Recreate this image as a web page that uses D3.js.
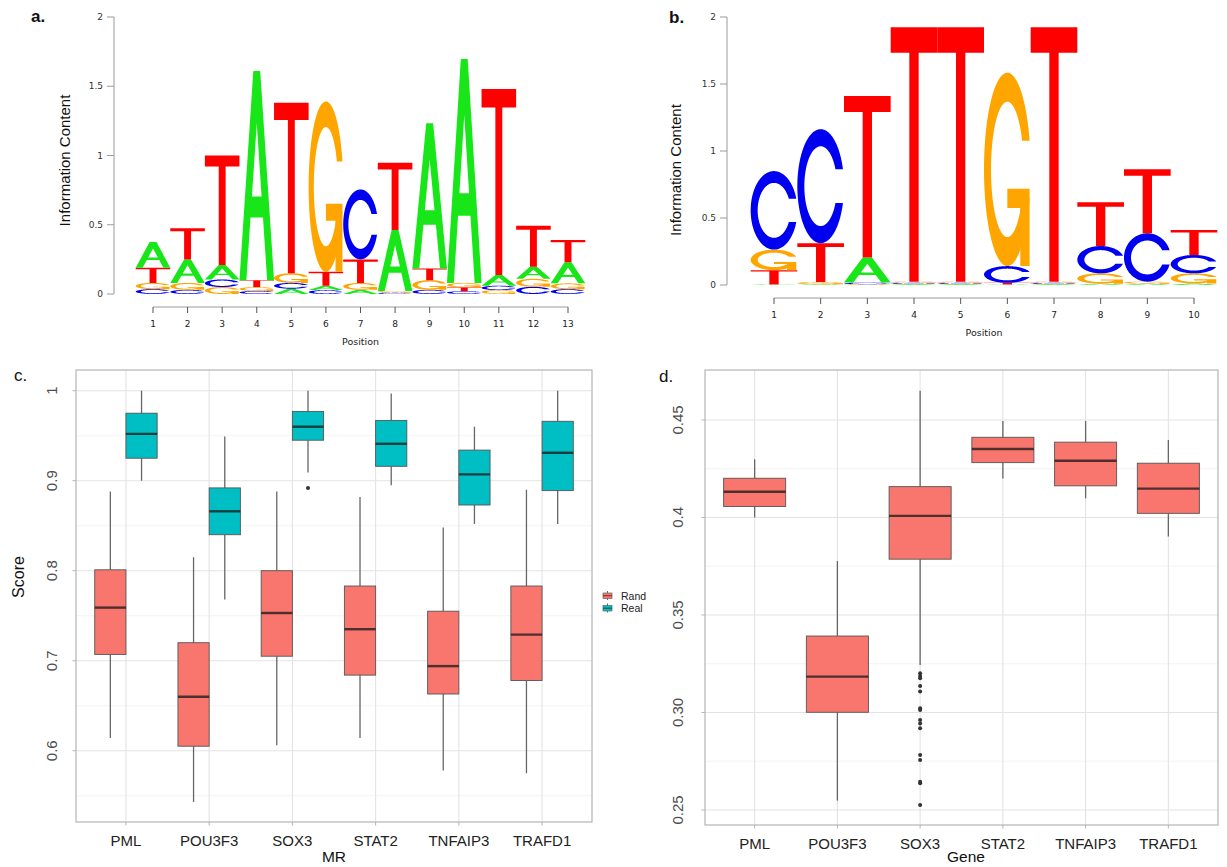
<!DOCTYPE html>
<html>
<head>
<meta charset="utf-8">
<script src="https://cdnjs.cloudflare.com/ajax/libs/d3/7.8.5/d3.min.js"></script>
<style>
  body { margin: 0; background: #fff; }
  svg { display: block; font-family: "Liberation Sans", Arial, sans-serif; }
</style>
</head>
<body>
<svg id="fig" width="1227" height="867"></svg>
<script>
// ---------- data ----------
// logo a: information per base and position (bits)
var logoAPos = [1, 2, 3, 4, 5, 6, 7, 8, 9, 10, 11, 12, 13];
var logoA_A = [0.185, 0.17, 0.105, 1.51, 0.038, 0.032, 0.03, 0.44, 1.047, 1.617, 0.077, 0.087, 0.153];
var logoA_C = [0.035, 0.03, 0.055, 0.022, 0.042, 0.028, 0.505, 0.01, 0.03, 0.02, 0.032, 0.052, 0.035];
var logoA_G = [0.045, 0.05, 0.05, 0.028, 0.07, 1.23, 0.05, 0.012, 0.07, 0.032, 0.028, 0.058, 0.042];
var logoA_T = [0.11, 0.225, 0.79, 0.05, 1.23, 0.1, 0.17, 0.485, 0.085, 0.028, 1.343, 0.296, 0.16];

// logo b
var logoBPos = [1, 2, 3, 4, 5, 6, 7, 8, 9, 10];
var logoB_A = [0.004, 0.006, 0.188, 0.008, 0.008, 0.004, 0.008, 0.01, 0.01, 0.012];
var logoB_C = [0.586, 0.851, 0.012, 0.008, 0.008, 0.125, 0.008, 0.204, 0.361, 0.137];
var logoB_G = [0.153, 0.016, 0.006, 0.009, 0.009, 1.443, 0.009, 0.077, 0.015, 0.075];
var logoB_T = [0.107, 0.29, 1.205, 1.898, 1.898, 0.012, 1.898, 0.326, 0.477, 0.186];

var logoTicks = [0, 0.5, 1, 1.5, 2];

// box plots: [lower whisker, q1, median, q3, upper whisker]
var genes = ["PML", "POU3F3", "SOX3", "STAT2", "TNFAIP3", "TRAFD1"];
var scoreRand = [
    [0.614, 0.707, 0.759, 0.801, 0.888],
    [0.543, 0.605, 0.660, 0.720, 0.815],
    [0.606, 0.705, 0.753, 0.800, 0.888],
    [0.614, 0.684, 0.735, 0.783, 0.882],
    [0.578, 0.663, 0.694, 0.755, 0.848],
    [0.575, 0.678, 0.729, 0.783, 0.890]
];
var scoreReal = [
    [0.900, 0.925, 0.952, 0.975, 1.000],
    [0.768, 0.840, 0.866, 0.892, 0.949],
    [0.909, 0.945, 0.960, 0.977, 1.000],
    [0.895, 0.916, 0.941, 0.967, 0.997],
    [0.852, 0.873, 0.907, 0.934, 0.960],
    [0.852, 0.889, 0.931, 0.966, 1.000]
];
var scoreRealOutliers = [["SOX3", 0.892]];
var scoreTicks = [0.6, 0.7, 0.8, 0.9, 1];
var scoreTickLabels = ["0.6", "0.7", "0.8", "0.9", "1"];
var scoreMinor = [0.55, 0.65, 0.75, 0.85, 0.95];

var geneRand = [
    [0.4000, 0.4056, 0.4132, 0.4201, 0.4298],
    [0.2548, 0.3001, 0.3184, 0.3392, 0.3777],
    [0.3244, 0.3786, 0.4008, 0.4158, 0.4650],
    [0.4200, 0.4281, 0.4351, 0.4411, 0.4495],
    [0.4098, 0.4162, 0.4291, 0.4386, 0.4495],
    [0.3902, 0.4021, 0.4148, 0.4278, 0.4397]
];
var sox3Outliers = [0.3201, 0.3187, 0.3175, 0.3136, 0.3107, 0.3021, 0.3013, 0.2962,
    0.2944, 0.2919, 0.2782, 0.2756, 0.2645, 0.2637, 0.2526];
var geneTicks = [0.25, 0.30, 0.35, 0.4, 0.45];
var geneTickLabels = ["0.25", "0.30", "0.35", "0.4", "0.45"];
var geneMinor = [0.275, 0.325, 0.375, 0.425];

var groups = ["Rand", "Real"];
var groupColor = {Rand: "#f8766d", Real: "#00bfc4"};

var svg = d3.select("#fig");

// ---------- letter shapes (unit box, y up) ----------
var bases = ["A", "C", "G", "T"];
var baseColor = {A: "#19e619", C: "#0000f0", G: "#ffa500", T: "#ff0000"};

function ringC() {
    var n = 60;
    var a1 = d3.range(n).map(function (k) { return Math.PI / 2 + 0.3 + (Math.PI / 2 - 0.3) * k / (n - 1); });
    var a2 = d3.range(n).map(function (k) { return Math.PI + (Math.PI / 2) * k / (n - 1); });
    var l = a1.concat(a2).map(function (a) { return [0.5 + 0.5 * Math.sin(a), 0.5 + 0.5 * Math.cos(a)]; });
    var h = l[0][1];
    var outer = l.concat(l.slice().reverse().map(function (p) { return [p[0], 1 - p[1]]; }));
    var i1 = a1.map(function (a) { return [0.5 + 0.35 * Math.sin(a), 0.5 + 0.35 * Math.cos(a)]; })
        .filter(function (p) { return p[1] <= h; });
    i1[0] = [i1[0][0], h];
    var i2 = a2.map(function (a) { return [0.5 + 0.35 * Math.sin(a), 0.5 + 0.35 * Math.cos(a)]; });
    var inn = i1.concat(i2);
    var inner = inn.concat(inn.slice().reverse().map(function (p) { return [p[0], 1 - p[1]]; }));
    return {poly: outer.concat(inner.reverse()), r1: l[0][0]};
}

function letterShapes(b) {
    if (b === "A") {
        return [[[0, 0], [0.4, 1], [0.6, 1], [1, 0], [0.8, 0], [0.68, 0.3], [0.32, 0.3], [0.2, 0]],
            [[0.36, 0.4], [0.5, 0.75], [0.64, 0.4]]];
    }
    if (b === "T") {
        return [[[0, 1], [1, 1], [1, 0.9], [0.6, 0.9], [0.6, 0], [0.4, 0], [0.4, 0.9], [0, 0.9]]];
    }
    var c = ringC();
    if (b === "C") return [c.poly];
    var r1 = c.r1;
    return [c.poly, [[r1, 0.4], [0.5, 0.4], [0.5, 0.3], [r1 - 0.2, 0.3], [r1 - 0.2, 0], [r1, 0]]];
}

function shapePath(poly, x0, yb, w, h) {
    return "M" + poly.map(function (p) {
        return (x0 + p[0] * w).toFixed(2) + "," + (yb - p[1] * h).toFixed(2);
    }).join("L") + "Z";
}

function drawLogo(cfg) {
    var g = svg.append("g");
    var x = d3.scaleLinear().domain([1, cfg.pos.length]).range(cfg.xRange);
    var y = d3.scaleLinear().domain([0, 2]).range(cfg.yRange);
    var step = x(2) - x(1);

    // y axis
    g.append("line")
        .attr("x1", cfg.yAxisX).attr("x2", cfg.yAxisX)
        .attr("y1", y(0)).attr("y2", y(2))
        .attr("stroke", "#9a9a9a").attr("stroke-width", 1);
    logoTicks.forEach(function (t) {
        g.append("line")
            .attr("x1", cfg.yAxisX - 7).attr("x2", cfg.yAxisX)
            .attr("y1", y(t)).attr("y2", y(t))
            .attr("stroke", "#9a9a9a");
        g.append("text")
            .attr("x", cfg.yAxisX - 11).attr("y", y(t) + 3)
            .attr("text-anchor", "end")
            .style("font-family", "DejaVu Sans")
            .style("font-size", "9px")
            .attr("fill", "#333")
            .text(String(t));
    });

    // x axis
    g.append("line")
        .attr("x1", x(1)).attr("x2", x(cfg.pos.length))
        .attr("y1", cfg.xAxisY).attr("y2", cfg.xAxisY)
        .attr("stroke", "#9a9a9a");
    cfg.pos.forEach(function (p) {
        g.append("line")
            .attr("x1", x(p)).attr("x2", x(p))
            .attr("y1", cfg.xAxisY).attr("y2", cfg.xAxisY + 6)
            .attr("stroke", "#555");
        g.append("text")
            .attr("x", x(p)).attr("y", cfg.xAxisY + 20)
            .attr("text-anchor", "middle")
            .style("font-family", "DejaVu Sans")
            .style("font-size", "9px")
            .attr("fill", "#222")
            .text(p);
    });
    g.append("text")
        .attr("x", (x(1) + x(cfg.pos.length)) / 2).attr("y", cfg.xAxisY + 38)
        .attr("text-anchor", "middle")
        .style("font-family", "DejaVu Sans")
        .style("font-size", "9.5px")
        .attr("fill", "#222")
        .text("Position");

    g.append("text")
        .attr("transform", "translate(" + cfg.titleX + "," + ((y(0) + y(2)) / 2 + cfg.titleDy) + ") rotate(-90)")
        .attr("text-anchor", "middle")
        .style("font-size", "15px")
        .attr("fill", "#111")
        .text("Information Content");

    g.append("text")
        .attr("x", cfg.tagX).attr("y", cfg.tagY)
        .style("font-size", "17px")
        .style("font-weight", "bold")
        .attr("fill", "#111")
        .text(cfg.tag);

    // letter stacks, smallest at the bottom
    cfg.pos.forEach(function (p, i) {
        var stack = bases.map(function (b) { return {b: b, v: cfg.vals[b][i]}; })
            .sort(function (a, b) { return a.v - b.v; });
        var acc = 0;
        stack.forEach(function (s) {
            var yb = y(acc), h = y(0) - y(s.v);
            var polys = letterShapes(s.b);
            if (s.b === "A") {
                g.append("path")
                    .attr("d", polys.map(function (q) { return shapePath(q, x(p - 0.5), yb, step, h); }).join(""))
                    .attr("fill", baseColor[s.b])
                    .attr("fill-rule", "evenodd");
            } else {
                polys.forEach(function (q) {
                    g.append("path")
                        .attr("d", shapePath(q, x(p - 0.5), yb, step, h))
                        .attr("fill", baseColor[s.b]);
                });
            }
            acc += s.v;
        });
    });
}

drawLogo({
    pos: logoAPos,
    vals: {A: logoA_A, C: logoA_C, G: logoA_G, T: logoA_T},
    xRange: [153, 568], yRange: [294, 17],
    yAxisX: 114, xAxisY: 307,
    titleX: 70, titleDy: 5,
    tag: "a.", tagX: 31, tagY: 22
});

drawLogo({
    pos: logoBPos,
    vals: {A: logoB_A, C: logoB_C, G: logoB_G, T: logoB_T},
    xRange: [774, 1194], yRange: [285, 17],
    yAxisX: 727, xAxisY: 298,
    titleX: 681, titleDy: 19,
    tag: "b.", tagX: 669, tagY: 23
});

// ---------- box plot panels ----------
function drawBoxPanel(cfg) {
    var g = svg.append("g");
    var x = d3.scalePoint().domain(genes).range(cfg.xRange).padding(0.6);
    var y = d3.scaleLinear().domain(cfg.yDomain).range(cfg.yRange);
    var step = x.step();
    var x0 = cfg.xRange[0], x1 = cfg.xRange[1], yTop = cfg.yRange[1], yBot = cfg.yRange[0];

    // grid
    cfg.minor.forEach(function (t) {
        g.append("line").attr("x1", x0).attr("x2", x1).attr("y1", y(t)).attr("y2", y(t))
            .attr("stroke", "#f0f0f0").attr("stroke-width", 0.8);
    });
    cfg.ticks.forEach(function (t) {
        g.append("line").attr("x1", x0).attr("x2", x1).attr("y1", y(t)).attr("y2", y(t))
            .attr("stroke", "#e3e3e3").attr("stroke-width", 1.1);
    });
    genes.forEach(function (d) {
        g.append("line").attr("x1", x(d)).attr("x2", x(d)).attr("y1", yTop).attr("y2", yBot)
            .attr("stroke", "#e3e3e3").attr("stroke-width", 1.1);
    });

    // boxes
    cfg.series.forEach(function (s) {
        var bw = s.width * step;
        s.data.forEach(function (q, i) {
            var cx = x(genes[i]) + s.offset * step;
            g.append("line").attr("x1", cx).attr("x2", cx).attr("y1", y(q[4])).attr("y2", y(q[3]))
                .attr("stroke", "#666").attr("stroke-width", 1.3);
            g.append("line").attr("x1", cx).attr("x2", cx).attr("y1", y(q[1])).attr("y2", y(q[0]))
                .attr("stroke", "#666").attr("stroke-width", 1.3);
            g.append("rect")
                .attr("x", cx - bw / 2).attr("width", bw)
                .attr("y", y(q[3])).attr("height", y(q[1]) - y(q[3]))
                .attr("fill", groupColor[s.group])
                .attr("stroke", "#555").attr("stroke-width", 0.9);
            g.append("line").attr("x1", cx - bw / 2).attr("x2", cx + bw / 2)
                .attr("y1", y(q[2])).attr("y2", y(q[2]))
                .attr("stroke", "rgba(35,30,30,0.8)").attr("stroke-width", 2.4);
        });
        s.outliers.forEach(function (o) {
            g.append("circle")
                .attr("cx", x(o[0]) + s.offset * step).attr("cy", y(o[1])).attr("r", 2)
                .attr("fill", "#333");
        });
    });

    // border and ticks
    g.append("rect").attr("x", x0).attr("y", yTop).attr("width", x1 - x0).attr("height", yBot - yTop)
        .attr("fill", "none").attr("stroke", "#b5b5b5").attr("stroke-width", 1.2);
    cfg.ticks.forEach(function (t, i) {
        g.append("line").attr("x1", x0 - 3.5).attr("x2", x0).attr("y1", y(t)).attr("y2", y(t))
            .attr("stroke", "#b5b5b5");
        g.append("text")
            .attr("transform", "translate(" + cfg.yLabelX + "," + y(t) + ") rotate(-90)")
            .attr("text-anchor", "middle")
            .style("font-size", "15px")
            .attr("fill", "#4d4d4d")
            .text(cfg.tickLabels[i]);
    });
    genes.forEach(function (d) {
        g.append("line").attr("x1", x(d)).attr("x2", x(d)).attr("y1", yBot).attr("y2", yBot + 3.5)
            .attr("stroke", "#b5b5b5");
        g.append("text")
            .attr("x", x(d)).attr("y", yBot + 24)
            .attr("text-anchor", "middle")
            .style("font-size", "15px")
            .attr("fill", "#222")
            .text(d);
    });
    g.append("text")
        .attr("x", cfg.xTitleX).attr("y", 862)
        .attr("text-anchor", "middle")
        .style("font-size", "15.5px")
        .attr("fill", "#111")
        .text(cfg.xTitle);
    g.append("text")
        .attr("x", cfg.tagX).attr("y", cfg.tagY)
        .style("font-size", "17px")
        .attr("fill", "#111")
        .text(cfg.tag);
    return g;
}

drawBoxPanel({
    xRange: [76, 592], yRange: [822, 370], yDomain: [0.5208, 1.023],
    ticks: scoreTicks, tickLabels: scoreTickLabels, minor: scoreMinor,
    yLabelX: 57,
    series: [
        {group: "Rand", data: scoreRand, offset: -0.1875, width: 0.375, outliers: []},
        {group: "Real", data: scoreReal, offset: 0.1875, width: 0.375, outliers: scoreRealOutliers}
    ],
    xTitle: "MR", xTitleX: 334,
    tag: "c.", tagX: 14, tagY: 381
});

// y title for panel c
svg.append("text")
    .attr("transform", "translate(24,577) rotate(-90)")
    .attr("text-anchor", "middle")
    .style("font-size", "16px")
    .attr("fill", "#111")
    .text("Score");

drawBoxPanel({
    xRange: [705, 1218], yRange: [825, 370], yDomain: [0.2423, 0.4756],
    ticks: geneTicks, tickLabels: geneTickLabels, minor: geneMinor,
    yLabelX: 683,
    series: [
        {group: "Rand", data: geneRand, offset: 0, width: 0.75,
            outliers: sox3Outliers.map(function (v) { return ["SOX3", v]; })}
    ],
    xTitle: "Gene", xTitleX: 966,
    tag: "d.", tagX: 659, tagY: 382
});

// legend of panel c
var legend = svg.append("g").attr("transform", "translate(603,590)");
groups.forEach(function (gName, i) {
    var ly = i * 12.5;
    legend.append("line").attr("x1", 4.5).attr("x2", 4.5).attr("y1", ly + 1).attr("y2", ly + 10)
        .attr("stroke", "#666");
    legend.append("rect").attr("x", 0).attr("y", ly + 3).attr("width", 9).attr("height", 5.5)
        .attr("fill", groupColor[gName]).attr("stroke", "#666").attr("stroke-width", 0.7);
    legend.append("line").attr("x1", 0).attr("x2", 9).attr("y1", ly + 5.7).attr("y2", ly + 5.7)
        .attr("stroke", "rgba(35,30,30,0.7)").attr("stroke-width", 1);
    legend.append("text").attr("x", 18).attr("y", ly + 9.5)
        .style("font-size", "10.5px")
        .attr("fill", "#222")
        .text(gName);
});
</script>
</body>
</html>
